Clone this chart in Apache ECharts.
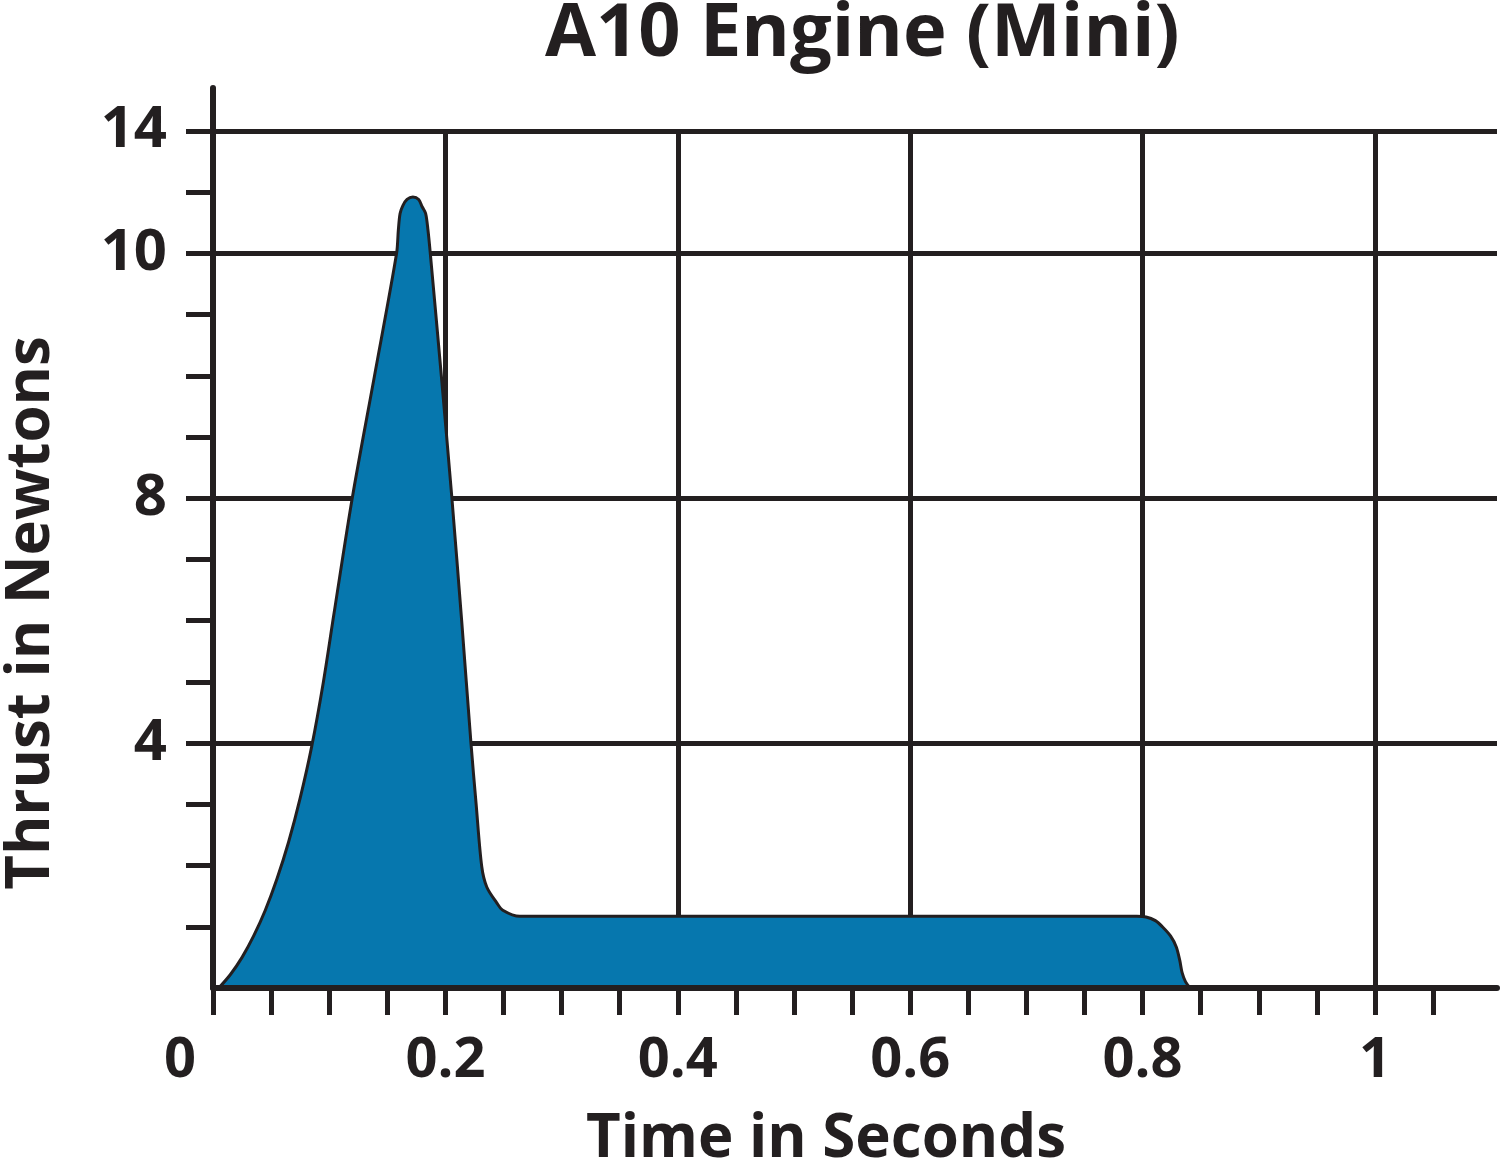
<!DOCTYPE html>
<html>
<head>
<meta charset="utf-8">
<title>A10 Engine (Mini)</title>
<script src="https://cdn.jsdelivr.net/npm/echarts@6.0.0/dist/echarts.min.js"></script>
<style>
  html, body { margin: 0; padding: 0; background: #fff; }
  #chart { width: 1500px; height: 1166px; }
</style>
</head>
<body>
<div id="chart"></div>
<script>
// thrust curve (seconds, newtons)
var timeSec = [0.005, 0.015, 0.025, 0.035, 0.045, 0.055, 0.065, 0.075, 0.085, 0.095, 0.104, 0.120, 0.139, 0.158,
               0.1595, 0.161, 0.1634, 0.167, 0.172, 0.177, 0.180, 0.183, 0.185, 0.187,
               0.1965, 0.2055, 0.214, 0.222, 0.2265, 0.2313, 0.2356, 0.2442, 0.2494, 0.264,
               0.40, 0.60, 0.795, 0.803, 0.811, 0.817, 0.824, 0.829, 0.832, 0.834, 0.837, 0.841];
var thrustN = [0, 0.22, 0.5, 0.85, 1.27, 1.78, 2.38, 3.1, 3.95, 5.0, 6.1, 8.02, 10.0, 12.0,
               12.38, 12.65, 12.78, 12.88, 12.92, 12.88, 12.76, 12.65, 12.38, 12.0,
               10.0, 8.02, 6.0, 4.0, 2.99, 1.98, 1.65, 1.39, 1.27, 1.17,
               1.17, 1.17, 1.17, 1.16, 1.1, 1.0, 0.85, 0.67, 0.45, 0.25, 0.1, 0];

var xTickValues = [0, 0.05, 0.1, 0.15, 0.2, 0.25, 0.3, 0.35, 0.4, 0.45, 0.5, 0.55, 0.6,
                   0.65, 0.7, 0.75, 0.8, 0.85, 0.9, 0.95, 1, 1.05];
var xLabelValues = [0, 0.2, 0.4, 0.6, 0.8, 1];
var xLabelTexts = ['0', '0.2', '0.4', '0.6', '0.8', '1'];
var xGridValues = [0.2, 0.4, 0.6, 0.8, 1];

var yTickValues = [1, 2, 3, 4, 5, 6, 7, 8, 9, 10, 11, 12, 13, 14];
var yLabelValues = [4, 8, 12, 14];
var yLabelTexts = ['4', '8', '10', '14'];
var yGridValues = [4, 8, 12, 14];

var ink = '#231f20';
var blue = '#0677ae';
var font = 'Open Sans';

var myChart = echarts.init(document.getElementById('chart'));

var curve = timeSec.map(function (t, i) { return [t, thrustN[i]]; });

var gridLines = [];
yGridValues.forEach(function (v) { gridLines.push({ yAxis: v }); });
xGridValues.forEach(function (v) { gridLines.push([{ coord: [v, 0] }, { coord: [v, 14] }]); });

function labelOf(values, texts) {
    return function (v) {
        for (var i = 0; i < values.length; i++) {
            if (Math.abs(values[i] - v) < 1e-6) {
                return i === 0 && values === xLabelValues ? '{zero|' + texts[i] + '}' : texts[i];
            }
        }
        return '';
    };
}

var option = {
    animation: false,
    title: {
        text: 'A10 Engine (Mini)',
        left: 545,
        top: -2,
        padding: 0,
        textStyle: { fontFamily: font, fontWeight: 'bold', fontSize: 74, color: ink }
    },
    grid: { left: 213, right: 3, top: 88, bottom: 178, outerBoundsMode: 'none', containLabel: false },
    xAxis: {
        type: 'value',
        min: 0,
        max: 1.105,
        interval: 0.05,
        z: 20,
        name: 'Time in Seconds',
        nameLocation: 'middle',
        nameGap: 122,
        nameTextStyle: {
            fontFamily: font, fontWeight: 'bold', fontSize: 60, color: ink,
            padding: [0, 58, 0, 0]
        },
        axisLine: { lineStyle: { color: ink, width: 6 } },
        axisTick: { length: 27, lineStyle: { color: ink, width: 5 }, customValues: xTickValues },
        axisLabel: {
            customValues: xLabelValues,
            margin: 45,
            fontFamily: font, fontWeight: 'bold', fontSize: 56, color: ink,
            formatter: labelOf(xLabelValues, xLabelTexts),
            rich: {
                zero: { fontFamily: font, fontWeight: 'bold', fontSize: 56, color: ink, padding: [0, 66, 0, 0] }
            }
        },
        splitLine: { show: false }
    },
    yAxis: {
        type: 'value',
        min: 0,
        max: 14.7,
        interval: 1,
        z: 20,
        name: 'Thrust in Newtons',
        nameLocation: 'middle',
        nameRotate: 90,
        nameGap: 151,
        nameTextStyle: {
            fontFamily: font, fontWeight: 'bold', fontSize: 60, color: ink,
            padding: [0, 150, 0, 0]
        },
        axisLine: { show: true, lineStyle: { color: ink, width: 6 } },
        axisTick: { show: true, length: 27, lineStyle: { color: ink, width: 5 }, customValues: yTickValues },
        axisLabel: {
            customValues: yLabelValues,
            margin: 46,
            fontFamily: font, fontWeight: 'bold', fontSize: 58, color: ink,
            formatter: labelOf(yLabelValues, yLabelTexts)
        },
        splitLine: { show: false }
    },
    series: [
        {
            // grid lines, kept under the filled curve
            name: 'grid',
            type: 'line',
            data: [],
            z: 1,
            silent: true,
            markLine: {
                silent: true,
                symbol: 'none',
                z: 1,
                label: { show: false },
                emphasis: { disabled: true },
                lineStyle: { color: ink, width: 5, type: 'solid' },
                data: gridLines
            }
        },
        {
            name: 'Thrust',
            type: 'line',
            z: 10,
            data: curve,
            smooth: 0.3,
            showSymbol: false,
            symbol: 'none',
            lineStyle: { color: ink, width: 3 },
            areaStyle: { color: blue, opacity: 1 }
        }
    ]
};

myChart.setOption(option);
</script>
</body>
</html>
